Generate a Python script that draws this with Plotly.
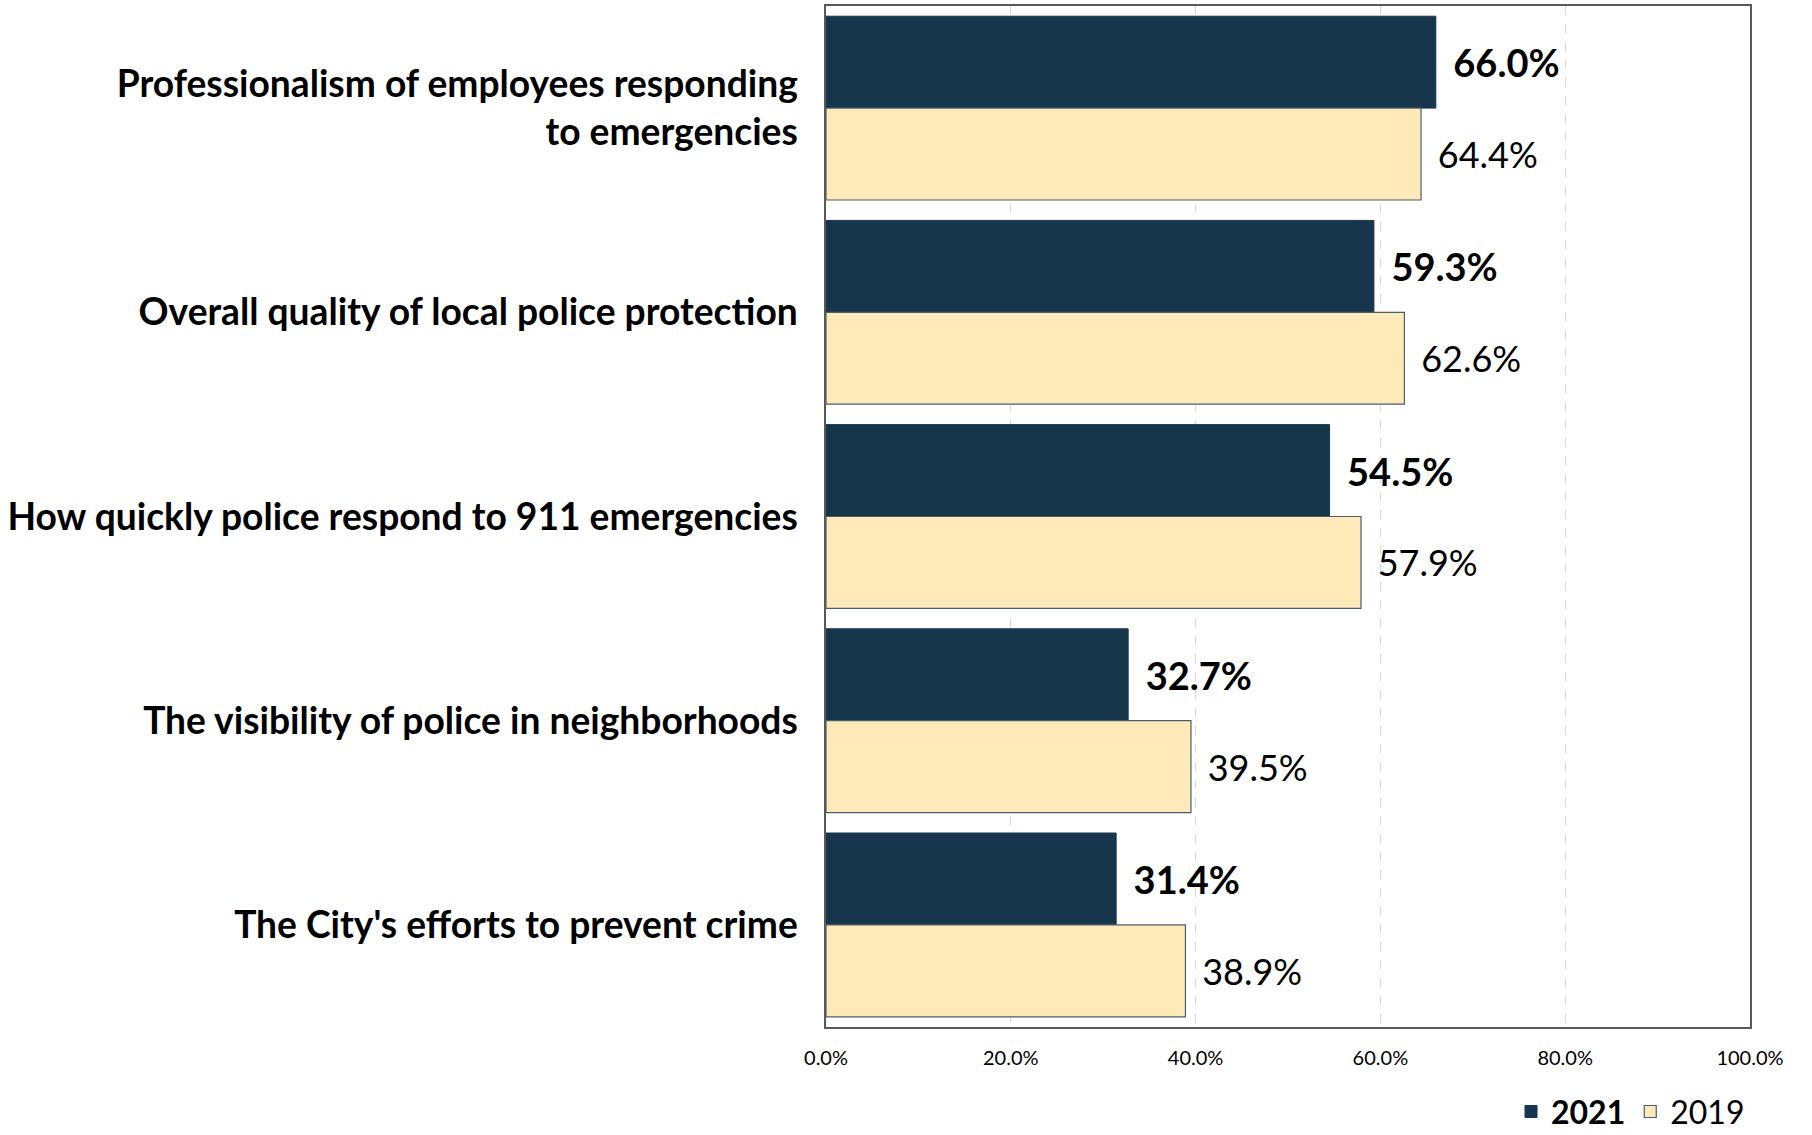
import plotly.graph_objects as go

categories = [
    "Professionalism of employees responding<br>to emergencies",
    "Overall quality of local police protection",
    "How quickly police respond to 911 emergencies",
    "The visibility of police in neighborhoods",
    "The City's efforts to prevent crime",
]
values_2021 = [66.0, 59.3, 54.5, 32.7, 31.4]
values_2019 = [64.4, 62.6, 57.9, 39.5, 38.9]
tick_vals = [0, 20, 40, 60, 80, 100]
tick_text = ["0.0%", "20.0%", "40.0%", "60.0%", "80.0%", "100.0%"]

FONT = "Lato"
DARK = "#17364b"
LIGHT = "#feeab8"

fig = go.Figure()
fig.add_trace(go.Bar(
    y=categories, x=values_2021, orientation="h", name="<b>2021</b>",
    marker=dict(color=DARK, line=dict(color=DARK, width=1)),
    texttemplate="\u00a0\u2009<b>%{x:.1f}%</b>", textposition="outside",
    textfont=dict(family=FONT, size=38, color="black"),
    cliponaxis=False,
))
fig.add_trace(go.Bar(
    y=categories, x=values_2019, orientation="h", name="2019",
    marker=dict(color=LIGHT, line=dict(color="#4d5d6c", width=1.2)),
    texttemplate="\u00a0\u2009%{x:.1f}%", textposition="outside",
    textfont=dict(family=FONT, size=36, color="black"),
    cliponaxis=False,
))

fig.update_layout(
    width=1812, height=1135,
    margin=dict(l=826, r=62, t=6, b=108, autoexpand=False),
    paper_bgcolor="white", plot_bgcolor="white",
    barmode="group", bargap=0.1, bargroupgap=0,
    font=dict(family=FONT, color="black"),
    showlegend=True,
    legend=dict(orientation="h", x=1.0, xanchor="right", y=-0.056, yanchor="top",
                font=dict(family=FONT, size=32, color="black"),
                traceorder="normal", itemwidth=30, tracegroupgap=0),
    uniformtext=dict(mode=False),
)
fig.update_xaxes(
    range=[0, 100], tickvals=tick_vals, ticktext=tick_text,
    tickfont=dict(family=FONT, size=20, color="black"),
    showgrid=True, gridcolor="#d9d9d9", griddash="dash", gridwidth=1,
    showline=True, linecolor="#595959", linewidth=1.5, mirror=True,
    zeroline=False, ticks="", ticklabelstandoff=12,
)
fig.update_yaxes(
    autorange="reversed",
    tickfont=dict(family=FONT, size=37.2, color="black", weight="bold"),
    showline=True, linecolor="#595959", linewidth=1.5, mirror=True,
    showgrid=False, ticks="", ticklabelstandoff=19,
)

fig.write_html("out.html")
